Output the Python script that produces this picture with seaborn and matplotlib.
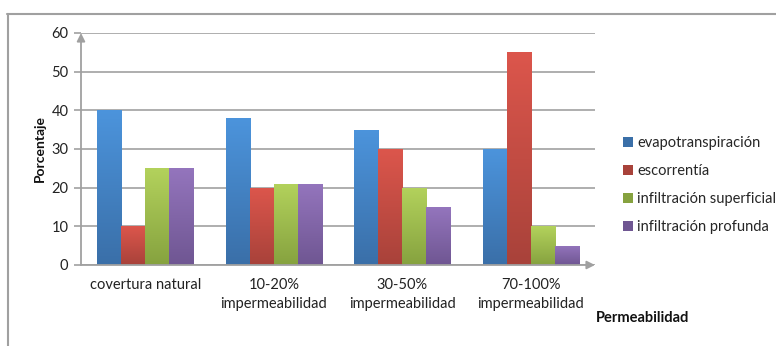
import numpy as np
import pandas as pd
import matplotlib
matplotlib.use("Agg")
import matplotlib.pyplot as plt
import seaborn as sns
from matplotlib.colors import LinearSegmentedColormap
from matplotlib.patches import Patch
from matplotlib.lines import Line2D

categories = ["covertura natural", "10-20%\nimpermeabilidad",
              "30-50%\nimpermeabilidad", "70-100%\nimpermeabilidad"]
series = ["evapotranspiración", "escorrentía",
          "infiltración superficial", "infiltración profunda"]
evapotranspiracion = [40, 38, 35, 30]
escorrentia = [10, 20, 30, 55]
infiltracion_superficial = [25, 21, 20, 10]
infiltracion_profunda = [25, 21, 15, 5]
y_ticks = [0, 10, 20, 30, 40, 50, 60]

# (top colour, bottom colour) for each series' vertical gradient
gradients = [("#4c94dc", "#3a6fa8"),
             ("#dc564c", "#a8423a"),
             ("#b3d25c", "#86a23f"),
             ("#9475bd", "#6f5692")]

values = [evapotranspiracion, escorrentia,
          infiltracion_superficial, infiltracion_profunda]
df = pd.DataFrame({
    "categoria": np.tile(categories, len(series)),
    "serie": np.repeat(series, len(categories)),
    "valor": np.concatenate(values),
})

sns.set_theme(style="white")
plt.rcParams["font.family"] = ["Lato", "DejaVu Sans"]

W, H = 776, 346
fig = plt.figure(figsize=(W / 100, H / 100), dpi=100)
ax = fig.add_axes([81 / W, 1 - 265 / H, (595 - 81) / W, (265 - 33) / H])

palette = {s: g[0] for s, g in zip(series, gradients)}
sns.barplot(data=df, x="categoria", y="valor", hue="serie", order=categories,
            hue_order=series, palette=palette, width=0.75, saturation=1,
            legend=False, ax=ax, linewidth=0)

ax.set_yticks(y_ticks)
ax.yaxis.grid(True, color="#a8a8a8", linewidth=1.3)
ax.set_axisbelow(True)

# replace flat fills with vertical gradients clipped to each bar
for container, (top, bottom) in zip(ax.containers, gradients):
    cmap = LinearSegmentedColormap.from_list("g", [bottom, top])
    grad = np.linspace(0, 1, 256).reshape(-1, 1)
    for bar in container:
        x0, y0 = bar.get_x(), bar.get_y()
        w, h = bar.get_width(), bar.get_height()
        bar.set_facecolor("none")
        im = ax.imshow(grad, cmap=cmap, origin="lower", aspect="auto",
                       extent=(x0, x0 + w, y0, y0 + h), zorder=2)
        im.set_clip_path(bar)
ax.set_xlim(-0.5, len(categories) - 0.5)
ax.set_ylim(0, 60)

for s in ax.spines.values():
    s.set_visible(False)
ax.annotate("", xy=(0, 1.0), xytext=(0, 0), xycoords="axes fraction",
            arrowprops=dict(arrowstyle="-|>", color="#a0a0a0", lw=1.3,
                            mutation_scale=12, shrinkA=0, shrinkB=0))
ax.annotate("", xy=(1.0, 0), xytext=(0, 0), xycoords="axes fraction",
            arrowprops=dict(arrowstyle="-|>", color="#a0a0a0", lw=1.3,
                            mutation_scale=12, shrinkA=0, shrinkB=0))

ax.tick_params(axis="y", left=True, length=5, width=1.3, color="#a8a8a8",
               labelsize=10.5, pad=4, labelcolor="#222222")
ax.tick_params(axis="x", bottom=False, labelsize=10.5, pad=3.5,
               labelcolor="#222222")
for lbl in ax.get_xticklabels():
    lbl.set_linespacing(1.4)
ax.set_xlabel("")
ax.set_ylabel("Porcentaje", fontsize=10, fontweight="bold", labelpad=4,
              color="#111111")

fig.text(643 / W, 1 - 318 / H, "Permeabilidad", fontsize=10.5,
         fontweight="bold", ha="center", va="center", color="#111111")

handles = [Patch(facecolor=g[1], edgecolor="none") for g in gradients]
fig.legend(handles, series, loc="center left",
           bbox_to_anchor=(617 / W, 1 - 185 / H), frameon=False,
           fontsize=10.5, handlelength=0.7, handleheight=0.7,
           handletextpad=0.3, labelspacing=0.95, borderaxespad=0)

# chart frame
fig.add_artist(Line2D([7 / W, 1.0], [1 - 13.5 / H] * 2, color="#a0a0a0",
                      lw=1.5, transform=fig.transFigure))
fig.add_artist(Line2D([7.5 / W] * 2, [0, 1 - 13.5 / H], color="#a0a0a0",
                      lw=1.5, transform=fig.transFigure))

fig.savefig("out.png", dpi=100)
